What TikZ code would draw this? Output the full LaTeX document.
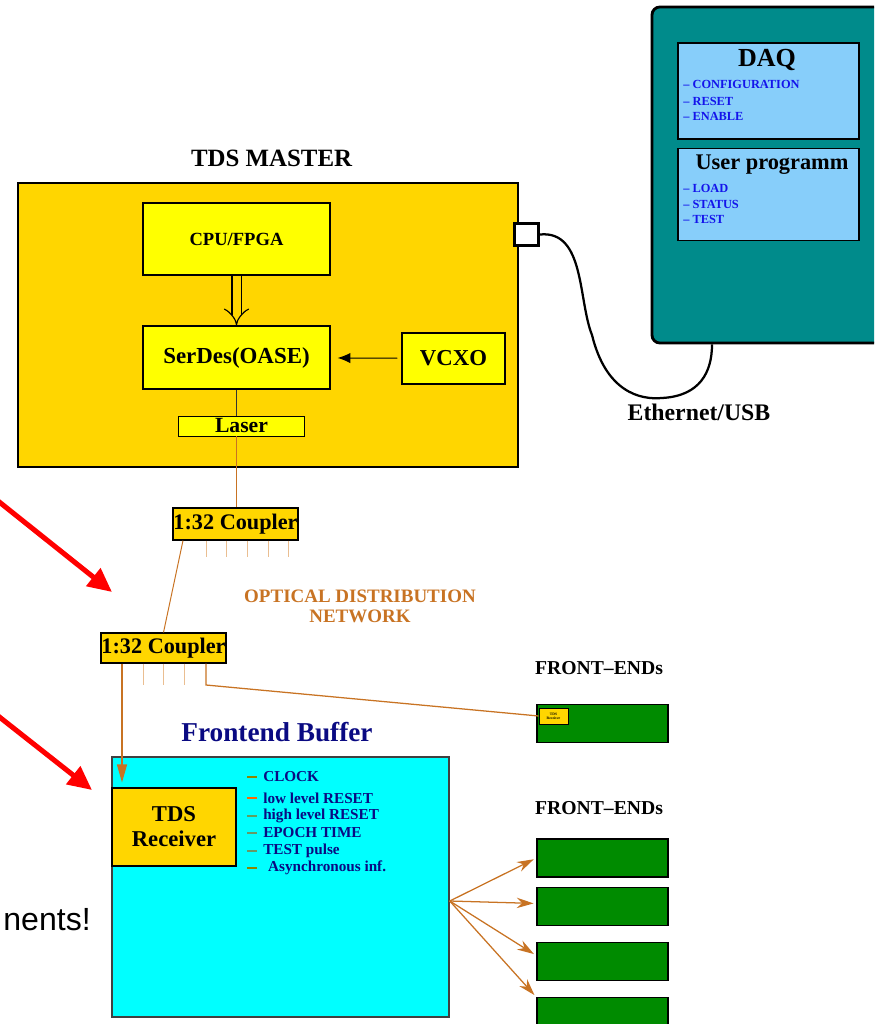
\documentclass[tikz,border=0pt]{standalone}
\usepackage{fontspec}
\setmainfont{Liberation Serif}
\newfontfamily\slidefont{Liberation Sans}
\usetikzlibrary{positioning,arrows.meta}
\definecolor{daqteal}{RGB}{0,139,139}
\definecolor{daqblue}{RGB}{135,206,250}
\definecolor{tdsgold}{RGB}{255,214,0}
\definecolor{chipyellow}{RGB}{255,255,0}
\definecolor{bufcyan}{RGB}{0,255,255}
\definecolor{fegreen}{RGB}{0,139,0}
\definecolor{fibre}{RGB}{200,115,35}
\definecolor{fibrelight}{RGB}{234,190,145}
\definecolor{signavy}{RGB}{10,10,130}
\definecolor{cmdblue}{RGB}{20,20,235}
\tikzset{
  every node/.style={text=black, font=\bfseries, inner sep=0pt},
  block/.style={draw=black, line width=1.1pt, rectangle},
  chip/.style={block, fill=chipyellow},
  goldbox/.style={block, fill=tdsgold},
  infobox/.style={block, fill=daqblue, minimum width=4.525cm},
  fe/.style={block, line width=0.9pt, fill=fegreen, minimum width=3.275cm, minimum height=0.95cm},
  fibreline/.style={draw=fibre, line width=0.7pt},
  tick/.style={draw=fibrelight, line width=0.7pt},
  hint/.style={draw=red, line width=3.6pt, -{Triangle[length=0.6cm, width=0.55cm]}},
  feed/.style={fibreline, line width=0.9pt, -{Stealth[length=0.42cm, width=0.26cm]}},
  cmd/.style={text=cmdblue, anchor=west, font=\bfseries\fontsize{8.8}{10}\selectfont},
  sig/.style={text=signavy, anchor=west, font=\bfseries\fontsize{10.8}{12}\selectfont}
}

\begin{document}
\begin{tikzpicture}[x=0.025cm, y=-0.025cm, node distance=0.2cm]
  \useasboundingbox (0,0) rectangle (874,1024);
  \clip (0,0) rectangle (874,1024);

  % PC side
  \node (pc) [block, line width=2pt, fill=daqteal, rounded corners=0.2cm, minimum width=6.3cm, minimum height=8.4cm] at (778,175) {};
  \node (daq) [infobox, minimum height=2.4cm] at (768.5,91) {};
  \node (user) [infobox, minimum height=2.3cm, below=of daq] {};
  \node at (767,60) {\fontsize{18.5}{20}\selectfont DAQ};
  \node at (772,165) {\fontsize{15.9}{18}\selectfont User programm};
  \foreach \y/\t in {84/CONFIGURATION, 101/RESET, 116/ENABLE, 188/LOAD, 204/STATUS, 219/TEST}
    \node [cmd] at (683,\y) {-- \t};

  % TDS master
  \node (master) [goldbox, line width=2pt, minimum width=12.5cm, minimum height=7.1cm] at (268,325) {};
  \node (mastertitle) [above=0.375cm of master, xshift=0.09cm, font=\bfseries\fontsize{17.7}{20}\selectfont] {TDS MASTER};
  \node (cpu) [chip, minimum width=4.675cm, minimum height=1.8cm, font=\bfseries\fontsize{13.2}{15}\selectfont] at (236.5,239) {CPU/FPGA};
  \node (serdes) [chip, minimum width=4.675cm, minimum height=1.575cm, font=\bfseries\fontsize{16.3}{18}\selectfont] at (236.5,357.5) {SerDes(OASE)};
  \node (vcxo) [chip, line width=0.8pt, minimum width=2.575cm, minimum height=1.275cm, font=\bfseries\fontsize{16.2}{18}\selectfont] at (453.5,358.5) {VCXO};
  \node (laser) [chip, line width=0.7pt, minimum width=3.125cm, minimum height=0.5cm, font=\bfseries\fontsize{15.4}{16}\selectfont] at (241.5,426) {Laser};
  \node (port) [block, line width=2pt, fill=white, minimum width=0.6cm, minimum height=0.55cm] at (526.5,234.5) {};

  \draw [line width=0.8pt, double=tdsgold, double distance=0.2cm, -{Implies[length=0.45cm, width=0.8cm]}] (cpu) -- (serdes);
  \draw [line width=0.7pt, -{Latex[length=0.32cm, width=0.26cm]}, shorten <=0.1cm, shorten >=0.17cm] (vcxo) -- (serdes);
  \draw [line width=0.8pt, draw=black!80] (serdes.south) -- (laser.north -| serdes.south);

  % cable to the PC
  \draw [line width=1.6pt] (port.east) .. controls (585,230) and (578,300) .. (592,335)
    .. controls (606,392) and (640,400) .. (662,398) .. controls (700,396) and (712,372) .. (pc.south -| 712,0);
  \node (cable) at (699,412) {\fontsize{16.9}{18}\selectfont Ethernet/USB};

  % optical distribution network
  \node (coupler1) [goldbox, line width=0.8pt, minimum width=3.125cm, minimum height=0.8cm, font=\bfseries\fontsize{15.8}{17}\selectfont] at (235.5,524) {1:32 Coupler};
  \node (coupler2) [goldbox, line width=0.8pt, minimum width=3.125cm, minimum height=0.75cm, font=\bfseries\fontsize{15.8}{17}\selectfont] at (163.5,648) {1:32 Coupler};
  \node (odn) [text=fibre, align=center, font=\bfseries\fontsize{13.5}{14.2}\selectfont] at (360,606) {OPTICAL DISTRIBUTION\\NETWORK};

  \draw [fibreline] (laser.south -| serdes.south) -- (coupler1.north -| serdes.south);
  \draw [fibreline] (coupler1.south -| 183,0) -- (coupler2.north);
  \foreach \tx in {206,226,247,268,288}
    \draw [tick] (coupler1.south -| \tx,0) -- ++(0,16);
  \foreach \tx in {143,163,184}
    \draw [tick] (coupler2.south -| \tx,0) -- ++(0,21);

  % front-ends
  \node (felabel1) [font=\bfseries\fontsize{14}{16}\selectfont] at (599,668) {FRONT--ENDs};
  \node (fe1) [fe] at (602.5,723.5) {};
  \node (tiny) [goldbox, line width=0.6pt, minimum width=0.725cm, minimum height=0.4cm, align=center, font=\bfseries\fontsize{2.6}{3}\selectfont] at (553.5,716) {TDS\\Receiver};
  \node (felabel2) [font=\bfseries\fontsize{14}{16}\selectfont] at (599,808) {FRONT--ENDs};
  \node (fe2) [fe] at (602.5,858) {};
  \node (fe3) [fe, below=0.225cm of fe2] {};
  \node (fe4) [fe, below=0.4cm of fe3] {};
  \node (fe5) [fe, below=0.4cm of fe4] {};
  \draw [fibreline, line width=0.9pt] (coupler2.south -| 206,0) -- (206,685) -- (tiny.west);

  % frontend buffer
  \node (bufname) [text=signavy, font=\bfseries\fontsize{19.4}{21}\selectfont] at (277,732) {Frontend Buffer};
  \node (buffer) [block, draw=black!75, line width=1pt, fill=bufcyan, minimum width=8.425cm, minimum height=6.5cm] at (280.5,887) {};
  \node (receiver) [goldbox, line width=1pt, minimum width=3.1cm, minimum height=1.95cm, align=center, font=\bfseries\fontsize{16.1}{17.8}\selectfont] at (174,827) {TDS\\Receiver};
  \foreach \y/\c/\t in {777/olive/CLOCK, 798/orange!80!red/low level RESET, 816/green!25!gray/high level RESET,
                        833/green!20!gray/EPOCH TIME, 851/green!20!gray/TEST pulse, 868/olive/\hspace{3.5pt}Asynchronous inf.}
  {
    \draw [\c, line width=1pt] (247,\y) -- (257,\y);
    \node [sig] at (263,\y) {\t};
  }
  \draw [feed, -{Triangle[length=0.45cm, width=0.25cm]}, shorten >=0.12cm] (coupler2.south -| 122,0) -- (receiver.north -| 122,0);

  \coordinate (fan) at ([yshift=-0.35cm]buffer.east);
  \draw [feed, shorten >=0.07cm] (fan) -- (fe2.west);
  \draw [feed, shorten >=0.07cm] (fan) -- ([yshift=0.07cm]fe3.west);
  \draw [feed, shorten >=0.07cm] (fan) -- ([yshift=0.15cm]fe4.west);
  \draw [feed, shorten >=0.07cm] (fan) -- (fe5.north west);

  % slide annotations
  \coordinate (hintA) at (-12,493);
  \coordinate (hintAend) at (112,592);
  \coordinate (hintB) at (-12,708);
  \coordinate (hintBend) at (92,790);
  \draw [hint] (hintA) -- (hintAend);
  \draw [hint] (hintB) -- (hintBend);
  \node (remark) [anchor=east, font=\slidefont\fontsize{22.8}{24}\selectfont] at (91,920) {nents!};
\end{tikzpicture}
\end{document}
